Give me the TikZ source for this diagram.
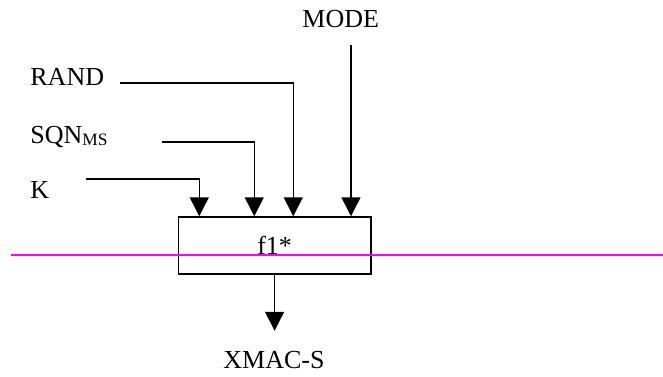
\documentclass[tikz,border=0pt]{standalone}
\usepackage{fontspec}
\setmainfont{Liberation Serif}
\usetikzlibrary{calc, arrows.meta}
\definecolor{markmagenta}{RGB}{255,0,255}

\begin{document}
\begin{tikzpicture}[
    x=0.5pt, y=-0.5pt,
    every node/.style={
            font=\fontsize{13}{15}\selectfont,
            inner sep=0pt
        },
    input_label/.style={anchor=base west},
    f1_block/.style={
            draw,
            line width=0.75pt,
            minimum width=96.2pt,
            minimum height=28.5pt
        },
    arrow/.style={line width=0.75pt, -{Triangle[length=9.5pt, width=9.5pt]}},
    marker_line/.style={draw=markmagenta, line width=0.8pt},
    ]
    \useasboundingbox (0,0) rectangle (663,376);

    % --- Labels ---
    \node[input_label] (mode) at (302,27) {MODE};
    \node[input_label] (rand) at (30,85) {RAND};
    \node[input_label] (sqn_ms) at (30,143) {SQN\raisebox{-1.2pt}{\fontsize{8.7}{10}\selectfont MS}};
    \node[input_label] (key) at (30,198) {K};

    % --- Block ---
    \node[f1_block] (f1_box) at (274.6,245.5) {f1*};

    % --- Output ---
    \node[input_label] (xmac_s) at (223,368) {XMAC-S};

    % --- Wire starts ---
    \coordinate (mode_start) at (351,45);
    \coordinate (rand_start) at (120,83);
    \coordinate (sqn_start) at (162,142);
    \coordinate (key_start) at (86,179);
    \coordinate (xmac_end) at ($(f1_box.south)+(0,56)$);

    % --- Arrows ---
    \draw[arrow] (key_start) -| ($(f1_box.north west)+(21.6,0)$);
    \draw[arrow] (sqn_start) -| ($(f1_box.north west)+(76.6,0)$);
    \draw[arrow] (rand_start) -| ($(f1_box.north west)+(115.6,0)$);
    \draw[arrow] (mode_start) -- (mode_start |- f1_box.north);
    \draw[arrow] (f1_box.south) -- (xmac_end);

    % --- Marker ---
    \draw[marker_line] (10.5,255) -- (663,255);

\end{tikzpicture}
\end{document}
